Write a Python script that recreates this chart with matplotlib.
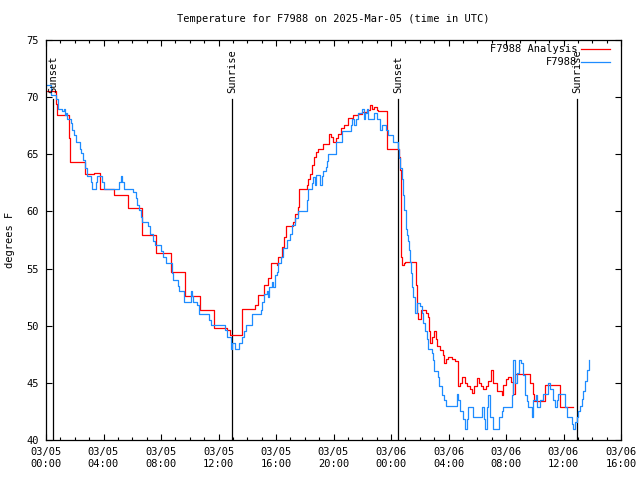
#!/usr/bin/env python
'''
temperature at F7988, observations vs analysis, 2025-Mar-05
hours counted from 03/05 00:00 UTC
'''
import matplotlib
matplotlib.use('Agg')
import matplotlib.pyplot as plt

# analysis (red)
red_hours = [0.00, 0.67, 0.74, 1.62, 1.67, 2.69, 3.32, 3.73, 4.75, 5.70,
             6.66, 7.64, 8.69, 9.70, 10.74, 11.69, 12.60, 12.77, 13.66, 14.54,
             14.72, 15.19, 15.47, 15.65, 16.05, 16.16, 16.44, 16.58, 16.67, 17.20,
             17.32, 17.51, 17.60, 18.13, 18.25, 18.37, 18.53, 18.67, 18.80, 18.95,
             19.28, 19.69, 19.83, 19.99, 20.15, 20.34, 20.52, 20.75, 21.03, 21.38,
             21.73, 21.96, 22.31, 22.54, 22.70, 22.84, 23.00, 23.12, 23.74, 24.58,
             24.65, 24.72, 24.79, 24.87, 24.97, 25.72, 25.79, 25.90, 26.09, 26.41,
             26.55, 26.64, 26.69, 26.88, 26.99, 27.11, 27.22, 27.41, 27.64, 27.71,
             27.80, 27.99, 28.22, 28.45, 28.64, 28.80, 28.92, 29.15, 29.26, 29.50,
             29.66, 29.80, 29.96, 30.12, 30.26, 30.42, 30.59, 30.77, 30.96, 31.12,
             31.35, 31.70, 31.82, 32.00, 32.16, 32.32, 32.51, 32.62, 33.67, 33.86,
             33.97, 34.70, 35.76, 36.64]
red_temps = [70.5, 69.4, 68.4, 66.4, 64.3, 63.3, 63.4, 62.0, 61.4, 60.3,
             57.9, 56.4, 54.7, 52.6, 51.4, 49.8, 49.6, 49.2, 51.5, 51.8,
             52.7, 53.6, 54.2, 55.5, 55.3, 56.0, 56.9, 57.8, 58.7, 59.1,
             59.8, 60.4, 62.0, 62.3, 62.8, 63.3, 64.1, 64.8, 65.2, 65.5,
             65.9, 66.8, 66.5, 66.1, 66.4, 66.8, 67.3, 67.6, 68.2, 68.4,
             68.5, 68.7, 68.9, 69.3, 69.0, 69.1, 68.9, 68.8, 65.5, 64.8,
             63.6, 56.0, 55.3, 55.5, 55.6, 53.6, 51.1, 50.6, 51.4, 51.1,
             50.8, 49.5, 48.5, 49.0, 49.5, 48.8, 48.2, 47.9, 47.4, 46.7,
             47.1, 47.3, 47.1, 46.9, 44.7, 45.0, 45.5, 45.0, 44.7, 44.5,
             44.1, 44.7, 45.4, 45.0, 44.7, 44.5, 44.7, 45.2, 46.1, 45.0,
             44.3, 43.9, 44.8, 45.3, 45.5, 45.1, 44.0, 45.8, 45.0, 44.0,
             43.4, 44.8, 42.9, 42.9]

# observations (blue)
blue_hours = [0.00, 0.32, 0.67, 0.83, 1.14, 1.25, 1.30, 1.37, 1.44, 1.72,
              1.83, 1.95, 2.06, 2.37, 2.46, 2.60, 2.69, 2.83, 3.11, 3.22,
              3.45, 3.57, 3.92, 4.03, 5.08, 5.19, 5.31, 5.43, 6.08, 6.24,
              6.35, 6.47, 6.59, 6.66, 7.12, 7.24, 7.47, 7.58, 7.98, 8.12,
              8.35, 8.74, 8.81, 9.21, 9.28, 9.60, 10.07, 10.13, 10.25, 10.53,
              10.67, 11.36, 11.46, 12.45, 12.57, 12.87, 12.96, 13.15, 13.43, 13.66,
              13.80, 13.89, 14.31, 14.96, 15.05, 15.19, 15.35, 15.42, 15.51, 15.70,
              15.82, 15.93, 16.05, 16.16, 16.35, 16.51, 16.74, 16.97, 17.09, 17.32,
              17.51, 18.13, 18.25, 18.48, 18.60, 18.71, 18.80, 19.06, 19.18, 19.29,
              19.46, 19.53, 19.60, 20.15, 20.57, 21.22, 21.31, 21.45, 21.54, 21.68,
              22.00, 22.15, 22.19, 22.31, 22.42, 22.84, 23.00, 23.23, 23.35, 23.63,
              23.81, 24.16, 24.51, 24.56, 24.63, 24.74, 24.86, 24.93, 25.02, 25.09,
              25.16, 25.25, 25.32, 25.39, 25.48, 25.55, 25.67, 25.79, 26.02, 26.14,
              26.25, 26.37, 26.53, 26.60, 26.83, 26.95, 27.02, 27.25, 27.34, 27.53,
              27.69, 27.80, 28.57, 28.68, 28.80, 29.04, 29.16, 29.27, 29.39, 29.68,
              30.31, 30.47, 30.54, 30.66, 30.77, 30.89, 31.12, 31.54, 31.70, 31.81,
              32.39, 32.51, 32.62, 32.79, 32.93, 33.02, 33.16, 33.32, 33.44, 33.56,
              33.79, 33.90, 34.09, 34.18, 34.37, 34.60, 34.95, 35.07, 35.25, 35.42,
              35.53, 35.65, 36.11, 36.23, 36.58, 36.69, 36.81, 36.93, 37.04, 37.16,
              37.28, 37.39, 37.51, 37.62, 37.74]
blue_temps = [71.1, 70.2, 69.8, 69.0, 68.8, 69.0, 68.4, 68.6, 68.1, 67.7,
              67.1, 66.7, 66.1, 65.5, 65.1, 64.5, 63.8, 63.1, 62.6, 62.0,
              62.6, 63.1, 62.6, 62.0, 62.6, 63.1, 62.6, 62.0, 61.7, 61.2,
              60.6, 60.1, 59.5, 59.1, 58.7, 58.0, 57.4, 57.1, 56.5, 56.0,
              55.5, 54.6, 54.0, 53.5, 53.0, 52.1, 53.0, 52.6, 52.1, 51.8,
              51.0, 50.5, 50.1, 49.6, 49.0, 48.0, 48.5, 48.0, 48.5, 49.0,
              49.5, 50.1, 51.0, 51.4, 52.1, 52.8, 53.0, 52.5, 53.4, 53.8,
              53.4, 54.4, 54.7, 55.5, 56.0, 56.8, 57.5, 58.0, 58.8, 59.4,
              60.0, 61.0, 62.0, 62.5, 63.0, 62.3, 63.2, 62.3, 63.1, 63.5,
              63.9, 64.4, 65.0, 66.1, 67.0, 67.6, 68.1, 67.6, 68.1, 68.6,
              69.0, 68.1, 68.6, 69.0, 68.1, 68.6, 68.1, 67.1, 67.6, 67.1,
              66.7, 66.1, 65.5, 64.7, 63.8, 62.8, 61.4, 60.1, 58.5, 57.9,
              57.4, 56.6, 55.6, 54.6, 53.4, 52.5, 51.1, 52.0, 51.7, 51.1,
              50.2, 49.5, 48.8, 48.0, 47.6, 47.0, 46.0, 45.5, 44.7, 43.9,
              43.5, 43.0, 44.0, 43.5, 42.5, 41.8, 41.0, 41.8, 42.9, 42.0,
              42.9, 41.8, 41.0, 42.9, 43.9, 42.0, 41.0, 42.0, 42.5, 42.9,
              43.9, 47.0, 45.0, 45.9, 47.0, 46.7, 45.7, 43.9, 43.4, 42.9,
              42.0, 43.5, 43.9, 42.9, 43.5, 44.0, 45.0, 44.5, 43.5, 42.9,
              43.5, 44.0, 42.9, 42.0, 41.4, 41.0, 41.6, 42.0, 42.5, 43.0,
              43.6, 44.3, 45.2, 46.1, 47.0]

event_hours = [0.50, 12.96, 24.51, 36.97]
event_names = ['Sunset', 'Sunrise', 'Sunset', 'Sunrise']

tick_hours = [0, 4, 8, 12, 16, 20, 24, 28, 32, 36, 40]
tick_labels = ['03/05\n00:00', '03/05\n04:00', '03/05\n08:00', '03/05\n12:00',
               '03/05\n16:00', '03/05\n20:00', '03/06\n00:00', '03/06\n04:00',
               '03/06\n08:00', '03/06\n12:00', '03/06\n16:00']

plt.rcParams['font.family'] = ['DejaVu Sans Mono']
plt.rcParams['font.size'] = 7.5

fig = plt.figure(figsize=(6.4, 4.8), dpi=100)
ax = fig.add_axes([46/640., 40/480., 575/640., 400/480.])

for h, name in zip(event_hours, event_names):
    ax.plot([h, h], [40., 69.8], 'k-', lw=0.9)
    ax.text(h, 70.4, name, rotation=90, ha='center', va='bottom')

ax.plot(red_hours, red_temps, color='#ff0000', lw=0.9, drawstyle='steps-post')
ax.plot(blue_hours, blue_temps, color='#1e8cff', lw=0.9, drawstyle='steps-post')

# legend drawn by hand, text to the left of the sample line
legend = [('F7988 Analysis', '#ff0000', 0.9775), ('F7988', '#1e8cff', 0.945)]
for label, col, yy in legend:
    ax.text(0.9235, yy, label, transform=ax.transAxes, ha='right', va='center')
    ax.plot([0.930, 0.981], [yy, yy], color=col, lw=0.9, transform=ax.transAxes)

ax.set_xlim(0, 40)
ax.set_ylim(40, 75)
ax.set_xticks(tick_hours)
ax.set_xticklabels(tick_labels)
ax.set_xticks(range(0, 41), minor=True)
ax.set_yticks(range(40, 76, 5))
ax.tick_params(which='major', direction='in', length=4.5, width=0.8,
               top=True, right=True, pad=5)
ax.tick_params(which='minor', direction='in', length=2.5, width=0.8,
               top=True, right=True)
ax.tick_params(axis='x', which='major', labelsize=7.5)
for sp in ax.spines.values():
    sp.set_linewidth(0.9)

ax.set_ylabel('degrees F', labelpad=8)
fig.text(0.52, 0.96, 'Temperature for F7988 on 2025-Mar-05 (time in UTC)',
         ha='center', va='center')

fig.savefig('out.png', dpi=100)
